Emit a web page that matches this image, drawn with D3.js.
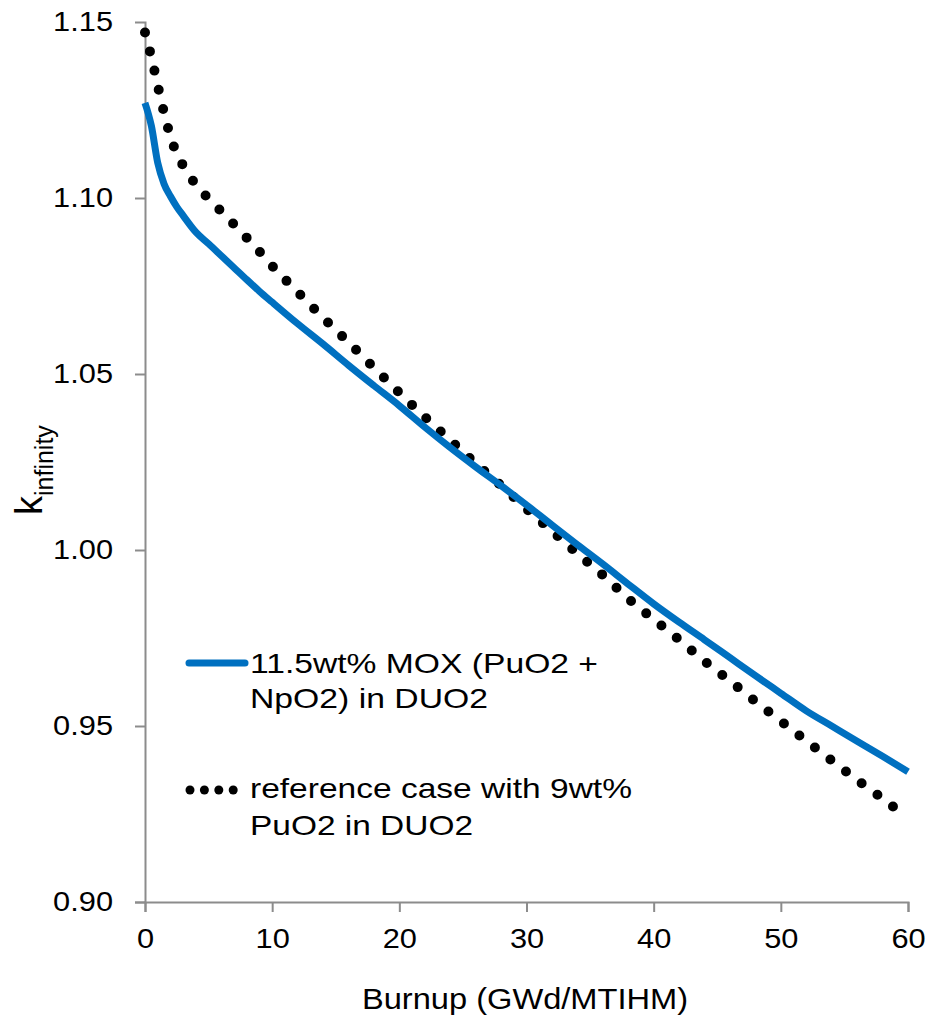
<!DOCTYPE html>
<html>
<head>
<meta charset="utf-8">
<script src="https://cdn.jsdelivr.net/npm/d3@7"></script>
<style>
  html, body { margin: 0; padding: 0; background: #fff; }
  svg text { font-family: "Liberation Sans", Arial, sans-serif; fill: #000; }
</style>
</head>
<body>
<svg id="chart" width="928" height="1017"></svg>
<script>
// ---- Data ----
const moxBurnup = [0, 0.5, 1, 1.5, 2, 2.5, 3, 4, 5, 6, 7, 8, 9, 10, 12, 14, 16, 18, 20, 22, 24, 26, 28, 30, 32, 34, 36, 38, 40, 42, 44, 46, 48, 50, 52, 54, 56, 58, 60];
const moxK = [1.127, 1.1205, 1.110, 1.104, 1.1005, 1.0975, 1.0950, 1.0903, 1.0870, 1.0836, 1.0802, 1.0768, 1.0735, 1.0704, 1.0643, 1.0585, 1.0525, 1.0467, 1.0410, 1.0349, 1.0291, 1.0236, 1.0183, 1.0128, 1.0071, 1.0015, 0.9960, 0.9903, 0.9847, 0.9795, 0.9745, 0.9694, 0.9643, 0.9593, 0.9543, 0.9500, 0.9457, 0.9414, 0.9370];

const refBurnup = [0, 0.5, 1, 1.5, 2, 2.5, 3, 3.5, 4, 5, 6, 7, 8, 9, 10, 12, 14, 16, 18, 20, 22, 24, 26, 28, 30, 32, 34, 36, 38, 40, 42, 44, 46, 48, 50, 52, 54, 56, 58, 60];
const refK = [1.147, 1.140, 1.132, 1.1242, 1.1175, 1.1125, 1.1092, 1.1063, 1.1038, 1.0998, 1.0962, 1.0925, 1.0887, 1.0848, 1.0807, 1.0733, 1.0660, 1.0590, 1.0518, 1.0447, 1.0378, 1.0312, 1.0246, 1.0183, 1.0117, 1.0054, 0.9990, 0.9929, 0.9862, 0.9803, 0.9745, 0.9684, 0.9628, 0.9570, 0.9514, 0.9458, 0.9402, 0.9347, 0.9294, 0.9237];

const xTicks = [0, 10, 20, 30, 40, 50, 60];
const yTicks = [0.90, 0.95, 1.00, 1.05, 1.10, 1.15];
const xTitle = "Burnup (GWd/MTIHM)";
const seriesNames = [["11.5wt% MOX (PuO2 +", "NpO2) in DUO2"], ["reference case with 9wt%", "PuO2 in DUO2"]];

// ---- Layout ----
const svg = d3.select("#chart");
const x = d3.scaleLinear().domain([0, 60]).range([145, 908]);
const y = d3.scaleLinear().domain([0.90, 1.15]).range([902, 22]);
const axisColor = "#8c8c8c";

function stretch(sel, factor, fixed) {
  sel.each(function () {
    const w = fixed != null ? fixed : this.getComputedTextLength() * factor;
    d3.select(this).attr("textLength", w).attr("lengthAdjust", "spacingAndGlyphs");
  });
}

// Axes
const xAxis = svg.append("g").attr("transform", `translate(0,${y(0.90)})`)
  .call(d3.axisBottom(x).tickValues(xTicks).tickSize(10).tickPadding(17).tickFormat(d3.format("d")));
const yAxis = svg.append("g").attr("transform", `translate(${x(0)},0)`)
  .call(d3.axisLeft(y).tickValues(yTicks).tickSize(10).tickPadding(22).tickFormat(d3.format(".2f")));
[xAxis, yAxis].forEach(g => {
  g.select(".domain").attr("stroke", axisColor).attr("stroke-width", 2);
  g.selectAll(".tick line").attr("stroke", axisColor).attr("stroke-width", 2);
  g.selectAll(".tick text").attr("font-size", 27).attr("fill", "#000")
    .attr("font-family", "Liberation Sans, Arial, sans-serif");
  stretch(g.selectAll(".tick text"), 1.14);
});
yAxis.selectAll(".tick").filter(d => d === 1.15).select("line").remove();

// Axis titles
const xt = svg.append("text").attr("x", 525).attr("y", 1009).attr("text-anchor", "middle")
  .attr("font-size", 30).text(xTitle);
stretch(xt, 1, 326);
const yt = svg.append("text").attr("transform", "translate(42,515) rotate(-90)");
yt.append("tspan").attr("font-size", 38).text("k");
yt.append("tspan").attr("font-size", 25).attr("dy", 11).text("infinity");

// Lines
const line = d3.line().x(d => x(d[0])).y(d => y(d[1])).curve(d3.curveMonotoneX);
const refData = d3.zip(refBurnup, refK);
const moxData = d3.zip(moxBurnup, moxK);

svg.append("path").datum(refData).attr("d", line)
  .attr("fill", "none").attr("stroke", "#000").attr("stroke-width", 10)
  .attr("stroke-linecap", "round").attr("stroke-dasharray", "0 19.6");
svg.append("path").datum(moxData).attr("d", line)
  .attr("fill", "none").attr("stroke", "#0070C0").attr("stroke-width", 7)
  .attr("stroke-linejoin", "round");

// Legend
const lg = svg.append("g");
lg.append("line").attr("x1", 189).attr("x2", 245).attr("y1", 663).attr("y2", 663)
  .attr("stroke", "#0070C0").attr("stroke-width", 7).attr("stroke-linecap", "round");
lg.selectAll("circle.ldot").data(d3.range(4)).join("circle").attr("class", "ldot")
  .attr("cx", i => 190 + i * 14.4).attr("cy", 790).attr("r", 4.5).attr("fill", "#000");
const legendY = [[673, 708], [798, 835]];
const legendW = [[348, 238], [382, 223]];
seriesNames.forEach((lines, i) => {
  lines.forEach((t, j) => {
    const tx = lg.append("text").attr("x", 250).attr("y", legendY[i][j])
      .attr("font-size", 28).text(t);
    stretch(tx, 1, legendW[i][j]);
  });
});
</script>
</body>
</html>
